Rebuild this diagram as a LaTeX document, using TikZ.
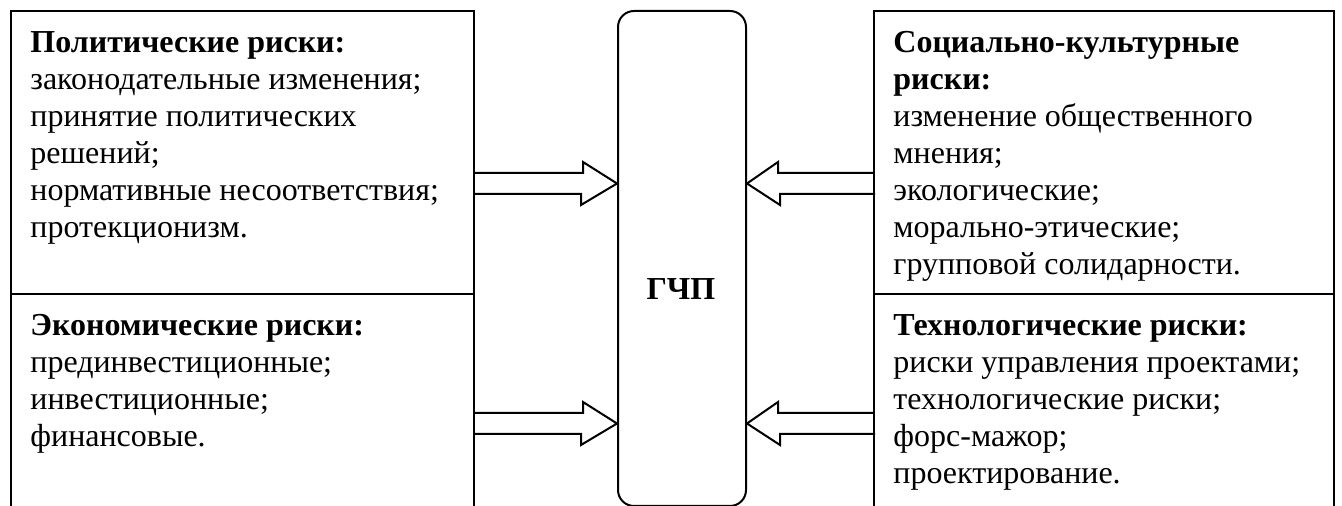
\documentclass[tikz,border=0pt]{standalone}
\usepackage{fontspec}
\setmainfont{Liberation Serif}
\begin{document}
\begin{tikzpicture}[x=0.5pt,y=-0.5pt,
  frame/.style={draw,line width=1pt,inner sep=0pt,anchor=north west},
  txt/.style={anchor=north west,align=left,inner sep=0pt,font=\fontsize{16}{18.5}\selectfont},
  harrow/.style={draw,line width=1pt,line join=miter}]
\useasboundingbox (0,0) rectangle (1342,506);
\clip (0,0) rectangle (1342,506);
% boxes
\node[frame,minimum width=231.5pt,minimum height=141.5pt] (LT) at (10,10) {};
\node[frame,minimum width=231.5pt,minimum height=120pt] (LB) at (10,293) {};
\node[frame,minimum width=230pt,minimum height=141.5pt] (RT) at (873,10) {};
\node[frame,minimum width=230pt,minimum height=120pt] (RB) at (873,293) {};
\node[frame,rounded corners=8pt,minimum width=64pt,minimum height=247.5pt] (G) at (617,10) {};
% texts
\node[txt] (tLT) at (30,26) {\strut\textbf{Политические риски:}\\законодательные изменения;\\принятие политических\\решений;\\нормативные несоответствия;\\протекционизм.};
\node[txt] (tLB) at (30,309) {\strut\textbf{Экономические риски:}\\прединвестиционные;\\инвестиционные;\\финансовые.};
\node[txt] (tRT) at (893,26) {\strut\textbf{Социально-культурные}\\\textbf{риски:}\\изменение общественного\\мнения;\\экологические;\\морально-этические;\\групповой солидарности.};
\node[txt] (tRB) at (893,309) {\strut\textbf{Технологические риски:}\\риски управления проектами;\\технологические риски;\\форс-мажор;\\проектирование.};
\node[anchor=base,inner sep=0pt,font=\fontsize{16}{18.5}\selectfont\bfseries] (tG) at (681,300) {ГЧП};
% arrows
\coordinate (a1) at (LT.east |- 0,183.5);
\coordinate (a2) at (LB.east |- 0,423.5);
\coordinate (a3) at (RT.west |- 0,183.5);
\coordinate (a4) at (RB.west |- 0,423.5);
\draw[harrow] (a1) ++(0,-10.5) -- ++(108,0) -- ++(0,-11) -- (G.west |- a1) -- ++(-36,21.5) -- ++(0,-11) -- ++(-108,0);
\draw[harrow] (a2) ++(0,-10.5) -- ++(108,0) -- ++(0,-11) -- (G.west |- a2) -- ++(-36,21.5) -- ++(0,-11) -- ++(-108,0);
\draw[harrow] (a3) ++(0,-10.5) -- ++(-95,0) -- ++(0,-11) -- (G.east |- a3) -- ++(33,21.5) -- ++(0,-11) -- ++(95,0);
\draw[harrow] (a4) ++(0,-10.5) -- ++(-95,0) -- ++(0,-11) -- (G.east |- a4) -- ++(33,21.5) -- ++(0,-11) -- ++(95,0);
\end{tikzpicture}
\end{document}
